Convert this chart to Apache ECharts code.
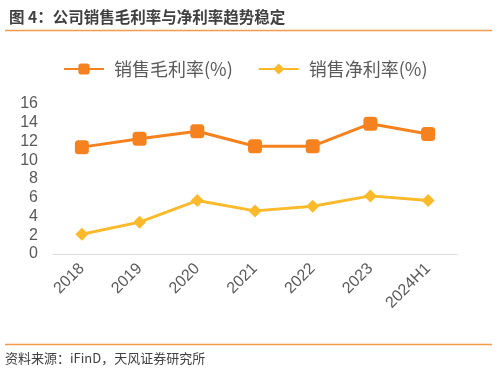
<!DOCTYPE html>
<html><head><meta charset="utf-8">
<script src="https://cdn.jsdelivr.net/npm/echarts@6/dist/echarts.min.js"></script>
<style>html,body{margin:0;padding:0;background:#fff}#c{width:497px;height:372px}</style>
</head><body><div id="c"></div>
<script>
const categories = ['2018','2019','2020','2021','2022','2023','2024H1'];
const grossMargin = [11.4, 12.3, 13.1, 11.5, 11.5, 13.9, 12.8];
const netMargin = [2.1, 3.4, 5.7, 4.6, 5.1, 6.2, 5.7];
const yTicks = [0, 2, 4, 6, 8, 10, 12, 14, 16];
const titleText = '图 4：公司销售毛利率与净利率趋势稳定';
const sourceText = '资料来源：iFinD，天风证券研究所';
const seriesNames = ['销售毛利率(%)', '销售净利率(%)'];

const chart = echarts.init(document.getElementById('c'), null, {renderer: 'canvas'});
const cjk = '"Noto Sans CJK SC", "Microsoft YaHei", sans-serif';
const num = '"Liberation Sans", Arial, sans-serif';
chart.setOption({
  animation: false,
  backgroundColor: '#fff',
  title: {
    text: titleText, left: 4, top: 4,
    textStyle: {fontFamily: cjk, fontSize: 15.5, fontWeight: 'bold', color: '#404040'}
  },
  graphic: [
    {type: 'line', shape: {x1: 5, y1: 30.5, x2: 492, y2: 30.5}, style: {stroke: '#F39A4C', lineWidth: 1.5}},
    {type: 'line', shape: {x1: 5, y1: 344.5, x2: 492, y2: 344.5}, style: {stroke: '#F39A4C', lineWidth: 1.5}},
    {type: 'text', left: 5, top: 352, style: {text: sourceText, font: '13px ' + cjk, fill: '#404040'}}
  ],
  legend: {
    top: 55, left: 58, itemWidth: 40, itemHeight: 14, itemGap: 25,
    textStyle: {fontFamily: cjk, fontSize: 18, color: '#595959', padding: [0, 0, 0, 5]},
    data: seriesNames
  },
  grid: {left: 53, right: 40, top: 104, bottom: 118},
  xAxis: {
    type: 'category', data: categories, boundaryGap: true,
    axisLine: {lineStyle: {color: '#d9d9d9', width: 1}},
    axisTick: {show: false},
    axisLabel: {rotate: 45, margin: 12, fontFamily: num, fontSize: 16, color: '#595959', interval: 0}
  },
  yAxis: {
    type: 'value', min: yTicks[0], max: yTicks[yTicks.length - 1], interval: 2,
    axisLine: {show: false}, axisTick: {show: false}, splitLine: {show: false},
    axisLabel: {margin: 15, fontFamily: num, fontSize: 16, color: '#595959'}
  },
  series: [
    {name: seriesNames[0], type: 'line', data: grossMargin, symbol: 'roundRect', symbolSize: 14,
     itemStyle: {color: '#F5821F'}, lineStyle: {color: '#F5821F', width: 3}},
    {name: seriesNames[1], type: 'line', data: netMargin, symbol: 'diamond', symbolSize: 13,
     itemStyle: {color: '#FBBA2B'}, lineStyle: {color: '#FBBA2B', width: 3}}
  ]
});
</script></body></html>
